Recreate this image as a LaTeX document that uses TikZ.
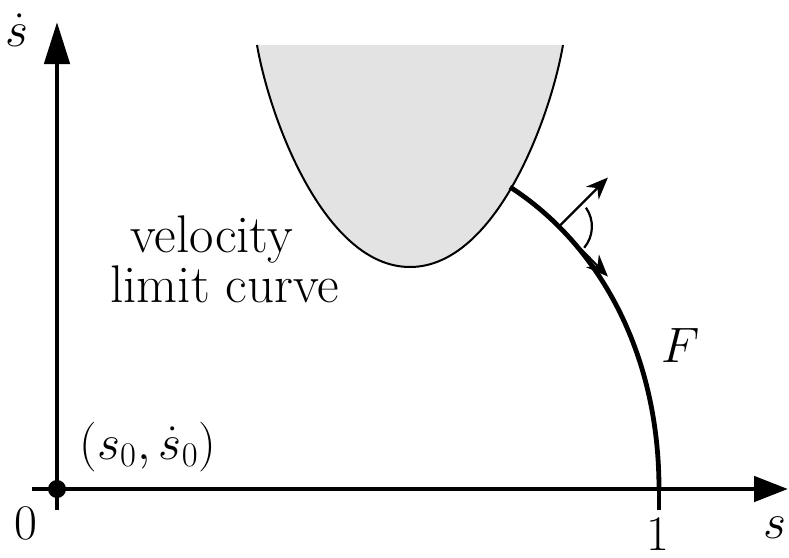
\documentclass[tikz,border=0pt]{standalone}
\usetikzlibrary{calc,arrows.meta}

\begin{document}
\begin{tikzpicture}[x=0.5pt,y=-0.5pt, every node/.style={font=\fontsize{24}{29}\selectfont, inner sep=0pt}]
    \useasboundingbox (0,0) rectangle (789,558);
    % axes
    \coordinate (o) at (57,489);
    \coordinate (xl) at (32,489);
    \coordinate (xr) at (788,489);
    \coordinate (yb) at (57,510);
    \coordinate (yt) at (57,22);
    \draw[line width=2.4pt, -{Triangle[length=17pt,width=12.5pt]}] (xl) -- (xr);
    \draw[line width=2.4pt, -{Triangle[length=21pt,width=12.5pt]}] (yb) -- (yt);
    \fill (o) circle[radius=4.5pt];
    \node (xs) at (775,528) {$s$};
    \node (ys) at (17,30) {$\dot s$};
    \node (zero) at (26,523) {$0$};
    \node (one) at (658,534) {$1$};
    \node (start) at (148,447) {$(s_0,\dot s_0)$};
    % velocity limit region
    \fill[black!11] (257,45) .. controls (270,120) and (325,267) .. (410,267)
        .. controls (495,267) and (550,120) .. (563,45) -- cycle;
    \draw[line width=1pt] (257,45) .. controls (270,120) and (325,267) .. (410,267)
        .. controls (495,267) and (550,120) .. (563,45);
    \node[anchor=base west, font=\fontsize{26.5}{31}\selectfont] (vel) at (130,252) {velocity};
    \node[anchor=base west, font=\fontsize{26.5}{31}\selectfont] (lim) at (110,302) {limit curve};
    % curve F
    \coordinate (Fa) at (510,187);
    \coordinate (Fb) at (659,489);
    \coordinate (tick) at (659,510);
    \draw[line width=2.4pt] (Fa) .. controls (597,243) and (659,350) .. (Fb) coordinate[pos=0.2] (P);
    \draw[line width=2.4pt] (Fb) -- (tick);
    \node (F) at (681,345) {$F$};
    \coordinate (Pn) at ($(P)+(49,-49)$);
    \coordinate (Pt) at ($(P)+(49,50)$);
    \draw[line width=1.1pt, -{Stealth[length=11pt,width=9pt]}] (P) -- (Pn);
    \draw[line width=1.1pt, -{Stealth[length=11pt,width=9pt]}] (P) -- (Pt);
    \draw[line width=1.1pt] ($(P)+(35:16.5pt)$) arc[start angle=35, end angle=-40, radius=16.5pt];
\end{tikzpicture}
\end{document}
